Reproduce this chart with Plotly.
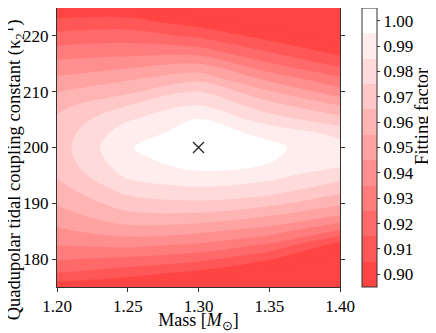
import plotly.graph_objects as go

# masses (solar masses) and quadrupolar tidal coupling constants
mass = [1.20, 1.25, 1.30, 1.35, 1.40]
kappa = [175.0, 177.5, 180.0, 182.5, 185.0, 187.5, 190.0, 192.5, 195.0, 197.5,
         200.0, 202.5, 205.0, 207.5, 210.0, 212.5, 215.0, 217.5, 220.0, 222.5, 225.0]

# fitting factor, one list per mass column (bottom -> top in kappa)
ff_m120 = [0.899, 0.915, 0.926, 0.935, 0.943, 0.950, 0.956, 0.961, 0.966, 0.969,
           0.970, 0.969, 0.967, 0.962, 0.955, 0.946, 0.938, 0.928, 0.918, 0.908, 0.897]
ff_m125 = [0.896, 0.909, 0.923, 0.937, 0.950, 0.961, 0.970, 0.979, 0.987, 0.992,
           0.9945, 0.991, 0.984, 0.975, 0.963, 0.953, 0.941, 0.930, 0.920, 0.909, 0.897]
ff_m130 = [0.885, 0.902, 0.918, 0.933, 0.947, 0.961, 0.973, 0.983, 0.993, 0.999,
           1.000, 0.999, 0.9955, 0.986, 0.976, 0.961, 0.945, 0.928, 0.913, 0.900, 0.886]
ff_m135 = [0.875, 0.890, 0.906, 0.923, 0.940, 0.954, 0.968, 0.980, 0.988, 0.9955,
           0.997, 0.993, 0.980, 0.969, 0.956, 0.941, 0.926, 0.913, 0.901, 0.889, 0.878]
ff_m140 = [0.860, 0.875, 0.890, 0.900, 0.923, 0.943, 0.957, 0.969, 0.979, 0.989,
           0.989, 0.982, 0.969, 0.955, 0.939, 0.926, 0.912, 0.900, 0.888, 0.876, 0.865]

levels = [0.895, 0.905, 0.915, 0.925, 0.935, 0.945, 0.955, 0.965, 0.975, 0.985, 0.995, 1.005]
cbar_ticks = [0.90, 0.91, 0.92, 0.93, 0.94, 0.95, 0.96, 0.97, 0.98, 0.99, 1.00]
true_mass, true_kappa = 1.30, 200.0

columns = [ff_m120, ff_m125, ff_m130, ff_m135, ff_m140]
z = [[col[i] for col in columns] for i in range(len(kappa))]

FONT = "Liberation Serif"
red = (255, 68, 68)
nb = len(levels) - 1


def band_color(i):
    f = i / (nb - 1)
    return "rgb({},{},{})".format(*[round(c + f * (255 - c)) for c in red])


# stepped scale for the colour bar, one step per filled band
step_scale = []
for i in range(nb):
    step_scale.append([i / nb, band_color(i)])
    step_scale.append([(i + 1) / nb, band_color(i)])

fig = go.Figure()
fig.add_trace(
    go.Contour(
        x=mass,
        y=kappa,
        z=z,
        contours=dict(start=levels[0], end=levels[-1], size=0.01, coloring="fill", showlines=False),
        colorscale=[[0, band_color(0)], [1 / 12, band_color(0)], [11 / 12, "white"], [1, "white"]],
        line=dict(width=0),
        showscale=False,
        hoverinfo="skip",
    )
)
# colour bar carrier
fig.add_trace(
    go.Scatter(
        x=[true_mass], y=[true_kappa], mode="markers", hoverinfo="skip",
        marker=dict(
            color=[levels[0]], cmin=levels[0], cmax=levels[-1], colorscale=step_scale,
            opacity=0, showscale=True,
            colorbar=dict(
                x=1.078, xanchor="left", xpad=0, ypad=0, thickness=15,
                len=1, lenmode="fraction", y=0.5, yanchor="middle",
                outlinecolor="#333", outlinewidth=1,
                tickvals=cbar_ticks, tickformat=".2f", ticks="outside", ticklen=3,
                tickcolor="#333", tickfont=dict(family=FONT, size=17, color="black"),
            ),
        ),
    )
)
fig.add_trace(
    go.Scatter(
        x=[true_mass], y=[true_kappa], mode="markers",
        marker=dict(symbol="x-thin", size=11, line=dict(width=1.3, color="#222")),
        hoverinfo="skip",
    )
)

axis_style = dict(
    showline=True, linecolor="#333", linewidth=1, mirror="ticks", automargin=False,
    ticks="outside", ticklen=4, tickcolor="#333", showgrid=False, zeroline=False,
    tickfont=dict(family=FONT, size=17, color="black"),
)
fig.update_xaxes(
    range=[1.20, 1.40], tickvals=[1.20, 1.25, 1.30, 1.35, 1.40], tickformat=".2f",
    title=dict(text="Mass [<i>M</i><sub>⊙</sub>]", font=dict(family=FONT, size=18, color="black"),
               standoff=0),
    **axis_style,
)
fig.update_yaxes(range=[175, 225], tickvals=[180, 190, 200, 210, 220], **axis_style)

# y label sits a little below the axes centre in the reference
fig.add_annotation(
    text="Quadupolar tidal coupling constant (κ<sub>2</sub><sup>T</sup>)",
    xref="paper", yref="paper", x=-0.15, y=0.42, xanchor="center", yanchor="middle",
    textangle=-90, showarrow=False, font=dict(family=FONT, size=18.5, color="black"),
)
# colour bar label
fig.add_annotation(
    text="Fitting factor",
    xref="paper", yref="paper", x=1.29, y=0.61, xanchor="center", yanchor="middle",
    textangle=-90, showarrow=False, font=dict(family=FONT, size=18.5, color="black"),
)

# the page body adds an 8px offset, so the figure is sized to the visible window
fig.update_layout(
    width=428, height=325,
    margin=dict(l=49, r=96, t=0, b=46, autoexpand=False),
    paper_bgcolor="white", plot_bgcolor="white",
    showlegend=False,
)

fig.write_html("out.html")
